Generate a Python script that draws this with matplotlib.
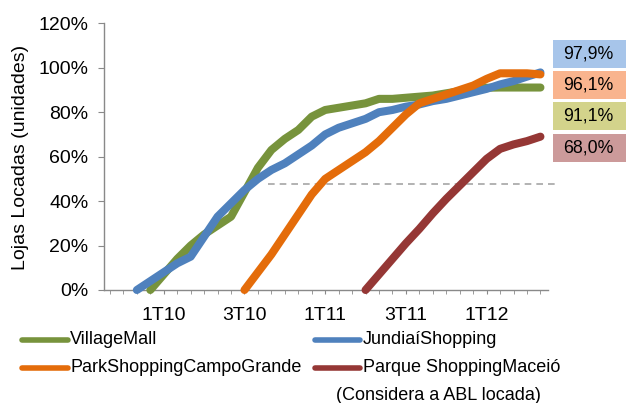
import numpy as np
import matplotlib
matplotlib.use("Agg")
import matplotlib.pyplot as plt
from matplotlib.lines import Line2D
from matplotlib.patches import Rectangle

plt.rcParams["font.family"] = ["Liberation Sans", "DejaVu Sans"]

# monthly positions (index 0 = first minor tick)
tick_labels = ["1T10", "3T10", "1T11", "3T11", "1T12"]
tick_pos = [4, 10, 16, 22, 28]

series_names = ["VillageMall", "JundiaíShopping",
                "ParkShoppingCampoGrande", "Parque ShoppingMaceió"]
series_colors = ["#77933C", "#4F81BD", "#E46C0A", "#953735"]

village_start = 3
village = [0.0, 0.07, 0.14, 0.20, 0.25, 0.29, 0.33, 0.44, 0.55, 0.63,
           0.68, 0.72, 0.78, 0.81, 0.82, 0.83, 0.84, 0.86, 0.86, 0.865,
           0.87, 0.875, 0.885, 0.895, 0.90, 0.91, 0.911, 0.911, 0.911, 0.911]

jundiai_start = 2
jundiai = [0.0, 0.04, 0.08, 0.12, 0.15, 0.24, 0.33, 0.39, 0.45, 0.50,
           0.54, 0.57, 0.61, 0.65, 0.70, 0.73, 0.75, 0.77, 0.80, 0.81,
           0.825, 0.835, 0.85, 0.86, 0.875, 0.89, 0.905, 0.925, 0.94, 0.96,
           0.979]

campo_start = 10
campo = [0.0, 0.08, 0.16, 0.25, 0.34, 0.43, 0.50, 0.54, 0.58, 0.62,
         0.67, 0.73, 0.79, 0.84, 0.86, 0.88, 0.90, 0.92, 0.95, 0.975,
         0.975, 0.975, 0.97]

maceio_start = 19
maceio = [0.0, 0.07, 0.14, 0.21, 0.275, 0.345, 0.41, 0.47, 0.53, 0.59,
          0.635, 0.655, 0.67, 0.69]

final_labels = ["97,9%", "96,1%", "91,1%", "68,0%"]
box_colors = ["#A7C5EA", "#F9B48E", "#D3D38B", "#CC9A9A"]

ref_level = 0.476

W, H = 626, 403
fig = plt.figure(figsize=(W / 100, H / 100), dpi=100)
ax = fig.add_axes([103.5 / W, 1 - 290 / H, (547.7 - 103.5) / W, (290 - 23.3) / H])

all_series = [(village_start, village), (jundiai_start, jundiai),
              (campo_start, campo), (maceio_start, maceio)]
for (start, vals), color in zip(all_series, series_colors):
    x = np.arange(start, start + len(vals))
    ax.plot(x, vals, color=color, lw=5.8, solid_capstyle="round",
            solid_joinstyle="round", clip_on=False, zorder=3)

ax.plot([11.77, 33.33], [ref_level, ref_level], color="#A6A6A6", lw=1.2,
        ls=(0, (4, 3)), clip_on=False, zorder=2)

ax.set_xlim(-0.48, 32.54)
ax.set_ylim(0, 1.2)
ax.set_yticks(np.arange(0, 1.21, 0.2))
ax.set_yticklabels(["{:.0f}%".format(v * 100) for v in np.arange(0, 1.21, 0.2)])
ax.set_xticks(tick_pos)
ax.set_xticklabels(tick_labels)
ax.set_xticks(np.arange(0, 33), minor=True)

for side in ["top", "right"]:
    ax.spines[side].set_visible(False)
for side in ["left", "bottom"]:
    ax.spines[side].set_color("#898989")
    ax.spines[side].set_linewidth(1.0)

ax.tick_params(axis="x", which="both", direction="out", length=3,
               color="#898989", labelsize=14, pad=9)
ax.tick_params(axis="y", direction="out", length=4.3, color="#898989",
               labelsize=14, pad=6.5)

fig.text(21 / W, 1 - 157.5 / H, "Lojas Locadas (unidades)", rotation=90,
         ha="center", va="center", fontsize=14)

# value boxes at right
box_tops = [40, 71, 102.3, 134]
for top, lab, bc in zip(box_tops, final_labels, box_colors):
    fig.add_artist(Rectangle((553 / W, 1 - (top + 27.7) / H), 73 / W, 27.7 / H,
                             transform=fig.transFigure, color=bc, lw=0))
    fig.text(588 / W, 1 - (top + 14) / H, lab, ha="center", va="center",
             fontsize=12.8)

# legend
leg_items = [(22, 68, 340, 70), (315, 360, 340, 363),
             (22, 68, 368, 70), (315, 360, 368, 363)]
leg_order = [0, 1, 2, 3]
for (x0, x1, y, tx), i in zip(leg_items, leg_order):
    fig.add_artist(Line2D([x0 / W, x1 / W], [1 - y / H, 1 - y / H],
                          transform=fig.transFigure, color=series_colors[i],
                          lw=4, solid_capstyle="round"))
    fig.text(tx / W, 1 - y / H, series_names[i], ha="left", va="center",
             fontsize=13)
fig.text(438 / W, 1 - 395 / H, "(Considera a ABL locada)", ha="center",
         va="center", fontsize=13)

fig.savefig("out.png", dpi=100)
